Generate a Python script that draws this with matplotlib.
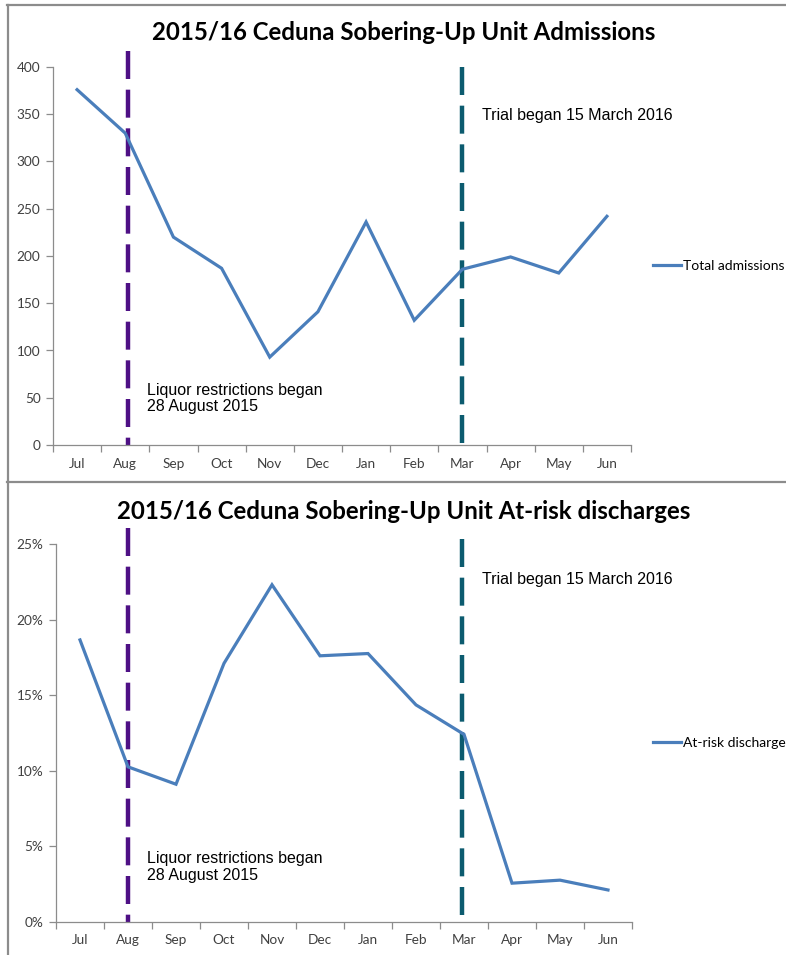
import matplotlib
matplotlib.use("Agg")
import matplotlib.pyplot as plt
from matplotlib.lines import Line2D
from matplotlib.ticker import FixedLocator, NullFormatter, PercentFormatter

months = ["Jul", "Aug", "Sep", "Oct", "Nov", "Dec", "Jan", "Feb", "Mar", "Apr", "May", "Jun"]
admissions = [376, 330, 220, 187, 93, 141, 236, 132, 186, 199, 182, 242]
at_risk = [18.65, 10.25, 9.1, 17.1, 22.3, 17.6, 17.75, 14.35, 12.4, 2.55, 2.75, 2.1]

liquor_pos = [1.05, 1.0]
trial_pos = [8.0, 7.95]

BLUE = "#4A7EBB"
PURPLE = "#4E1085"
TEAL = "#0C5B6F"
GREY = "#8c8c8c"
TICK_TXT = "#404040"

fig = plt.figure(figsize=(7.86, 9.55), dpi=100)

# frame lines around the two chart areas
def hline(y):
    fig.add_artist(Line2D([7 / 786, 1], [1 - y / 955, 1 - y / 955], color="#8c8c8c", lw=1.6))

hline(5)
hline(482)
fig.add_artist(Line2D([7.5 / 786, 7.5 / 786], [0, 1 - 5 / 955], color="#8c8c8c", lw=1.6))

ax1 = fig.add_axes([53 / 786, 1 - 445 / 955, 578 / 786, 378 / 955])
ax2 = fig.add_axes([56 / 786, 1 - 921.7 / 955, 576 / 786, 377.7 / 955])

x = list(range(len(months)))


def style(ax):
    for s in ["top", "right"]:
        ax.spines[s].set_visible(False)
    for s in ["left", "bottom"]:
        ax.spines[s].set_color(GREY)
        ax.spines[s].set_linewidth(0.9)
    ax.set_xlim(-0.5, len(months) - 0.5)
    ax.xaxis.set_major_locator(FixedLocator([i - 0.5 for i in range(len(months) + 1)]))
    ax.xaxis.set_major_formatter(NullFormatter())
    ax.xaxis.set_minor_locator(FixedLocator(x))
    ax.set_xticks(x, months, minor=True)
    ax.tick_params(axis="x", which="major", length=5, color=GREY, width=0.9)
    ax.tick_params(axis="x", which="minor", length=0, pad=9, labelsize=9.8, labelcolor=TICK_TXT)
    ax.tick_params(axis="y", length=5, color=GREY, width=0.9, labelsize=9.8, labelcolor=TICK_TXT, pad=4)
    for lab in ax.get_xticklabels(minor=True) + ax.get_yticklabels():
        lab.set_fontfamily(["Lato", "DejaVu Sans"])


def vline(ax, xpos, top, color):
    ln = Line2D([xpos, xpos], [top, 0], color=color, lw=3.2, clip_on=False, zorder=1)
    ln.set_dashes((6.3, 2.4))
    ax.add_line(ln)


# top chart
ax1.plot(x, admissions, color=BLUE, lw=2.3, label="Total admissions", zorder=3,
         solid_joinstyle="miter")
ax1.set_ylim(0, 400)
ax1.set_yticks(range(0, 401, 50))
style(ax1)
vline(ax1, liquor_pos[0], 417, PURPLE)
vline(ax1, trial_pos[0], 400, TEAL)
ax1.text(0.163, 0.124, "Liquor restrictions began\n28 August 2015", transform=ax1.transAxes,
         fontsize=11.5, family="Liberation Sans", va="center", ha="left", linespacing=1.1)
ax1.text(0.742, 0.873, "Trial began 15 March 2016", transform=ax1.transAxes,
         fontsize=11.5, family="Liberation Sans", va="center", ha="left")
fig.text(403.5 / 786, 1 - 33 / 955, "2015/16 Ceduna Sobering-Up Unit Admissions",
         ha="center", va="center", fontsize=17.3, fontweight="bold", family="Lato")
ax1.legend(loc="center left", bbox_to_anchor=(653 / 786, 1 - 266 / 955),
           bbox_transform=fig.transFigure, frameon=False, handlelength=2.0,
           handletextpad=0.15, borderaxespad=0, borderpad=0,
           prop={"family": "Lato", "size": 10})

# bottom chart
ax2.plot(x, at_risk, color=BLUE, lw=2.3, label="At-risk discharge", zorder=3,
         solid_joinstyle="miter")
ax2.set_ylim(0, 25)
ax2.set_yticks(range(0, 26, 5))
ax2.yaxis.set_major_formatter(PercentFormatter(decimals=0))
style(ax2)
vline(ax2, liquor_pos[1], 26.05, PURPLE)
vline(ax2, trial_pos[1], 25.3, TEAL)
ax2.text(0.158, 0.145, "Liquor restrictions began\n28 August 2015", transform=ax2.transAxes,
         fontsize=11.5, family="Liberation Sans", va="center", ha="left", linespacing=1.1)
ax2.text(0.74, 0.907, "Trial began 15 March 2016", transform=ax2.transAxes,
         fontsize=11.5, family="Liberation Sans", va="center", ha="left")
fig.text(404 / 786, 1 - 511.7 / 955, "2015/16 Ceduna Sobering-Up Unit At-risk discharges",
         ha="center", va="center", fontsize=17.3, fontweight="bold", family="Lato")
ax2.legend(loc="center left", bbox_to_anchor=(653 / 786, 1 - 743 / 955),
           bbox_transform=fig.transFigure, frameon=False, handlelength=2.0,
           handletextpad=0.15, borderaxespad=0, borderpad=0,
           prop={"family": "Lato", "size": 10})

fig.savefig("out.png", dpi=100)
